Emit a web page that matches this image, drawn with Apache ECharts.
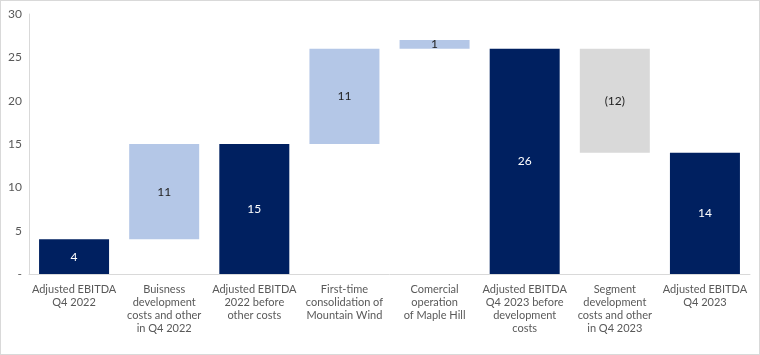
<!DOCTYPE html>
<html><head><meta charset="utf-8">
<script src="https://cdn.jsdelivr.net/npm/echarts@6/dist/echarts.min.js"></script>
<style>
html,body{margin:0;padding:0;background:#fff;}
#c{width:760px;height:355px;box-sizing:border-box;border:1px solid #d9d9d9;}
</style></head>
<body><div id="c"></div>
<script>
var categories = [
  'Adjusted EBITDA\nQ4 2022',
  'Buisness\ndevelopment\ncosts and other\nin Q4 2022',
  'Adjusted EBITDA\n2022 before\nother costs',
  'First-time\nconsolidation of\nMountain Wind',
  'Comercial\noperation\nof Maple Hill',
  'Adjusted EBITDA\nQ4 2023 before\ndevelopment\ncosts',
  'Segment\ndevelopment\ncosts and other\nin Q4 2023',
  'Adjusted EBITDA\nQ4 2023'
];
var baseValues = [0, 4, 0, 15, 26, 0, 14, 0];
var changeValues = [4, 11, 15, 11, 1, 26, -12, 14];
var barKinds = ['total', 'up', 'total', 'up', 'up', 'total', 'down', 'total'];
var yTicks = [0, 5, 10, 15, 20, 25, 30];

var kindColor = {total: '#002060', up: '#b4c7e7', down: '#d9d9d9'};
var kindLabel = {total: '#ffffff', up: '#1f1f1f', down: '#1f1f1f'};
var FONT = 'Lato, Liberation Sans, Arial';

var chart = echarts.init(document.getElementById('c'), null, {renderer: 'canvas'});
chart.setOption({
  animation: false,
  grid: {left: 28, right: 9, top: 13, bottom: 80, containLabel: false},
  xAxis: {
    type: 'category',
    data: categories,
    axisLine: {show: true, lineStyle: {color: '#d9d9d9', width: 1}},
    axisTick: {show: false},
    axisLabel: {
      interval: 0, color: '#595959', fontFamily: FONT,
      fontSize: 11, lineHeight: 13, margin: 9
    }
  },
  yAxis: {
    type: 'value',
    min: yTicks[0], max: yTicks[yTicks.length - 1], interval: 5,
    splitLine: {show: false},
    axisLine: {show: true, lineStyle: {color: '#d9d9d9', width: 1}},
    axisTick: {show: false},
    axisLabel: {
      color: '#595959', fontFamily: FONT, fontSize: 12, margin: 7,
      formatter: function (v) { return v === 0 ? '-' : String(v); }
    }
  },
  series: [
    {
      type: 'bar', stack: 'w', barWidth: 70,
      itemStyle: {color: 'transparent'},
      emphasis: {disabled: true},
      data: baseValues
    },
    {
      type: 'bar', stack: 'w', barWidth: 70,
      data: changeValues.map(function (v, i) {
        return {
          value: Math.abs(v),
          itemStyle: {color: kindColor[barKinds[i]]},
          label: {color: kindLabel[barKinds[i]]}
        };
      }),
      label: {
        show: true, position: 'inside', fontSize: 12,
        fontFamily: FONT, fontWeight: 'normal',
        formatter: function (p) {
          var v = changeValues[p.dataIndex];
          return v < 0 ? '(' + Math.abs(v) + ')' : String(v);
        }
      }
    }
  ]
});
</script></body></html>
